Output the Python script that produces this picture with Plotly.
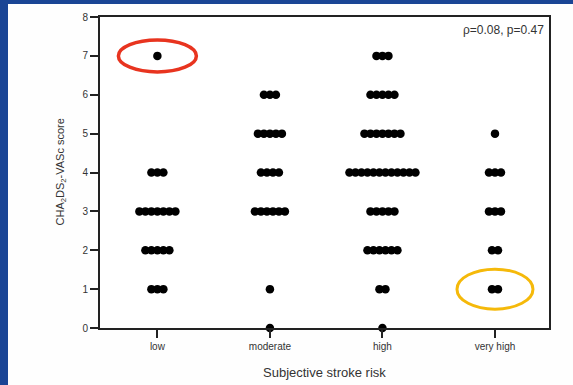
import plotly.graph_objects as go

# Data (count of patients at each score, per category)
categories = ["low", "moderate", "high", "very high"]
scores = [0, 1, 2, 3, 4, 5, 6, 7]
counts_low = [0, 3, 5, 7, 3, 0, 0, 1]
counts_moderate = [1, 1, 0, 6, 4, 5, 3, 0]
counts_high = [1, 2, 6, 5, 12, 7, 5, 3]
counts_very_high = [0, 2, 2, 3, 3, 1, 0, 0]
all_counts = [counts_low, counts_moderate, counts_high, counts_very_high]
y_ticks = [0, 1, 2, 3, 4, 5, 6, 7, 8]
stat_text = "ρ=0.08, p=0.47"

# Layout geometry (pixels)
W, H = 573, 385
ML, MR, MT, MB = 100, 24, 17, 57
plot_w = W - ML - MR
x_range = [-0.51, 3.48]
px_per_unit = plot_w / (x_range[1] - x_range[0])
spacing = 6.0 / px_per_unit

xs, ys = [], []
for ci, counts in enumerate(all_counts):
    for s, n in zip(scores, counts):
        for i in range(n):
            xs.append(ci + (i - (n - 1) / 2) * spacing)
            ys.append(s)

fig = go.Figure()
fig.add_trace(go.Scatter(
    x=xs, y=ys, mode="markers",
    marker=dict(size=8.5, color="black", line=dict(width=0)),
    cliponaxis=False, showlegend=False, hoverinfo="skip"))

axis_font = dict(family="Liberation Sans, Arial, sans-serif", size=10, color="#333")
fig.update_layout(
    width=W, height=H,
    margin=dict(l=ML, r=MR, t=MT, b=MB),
    paper_bgcolor="#fefefe", plot_bgcolor="white",
    font=axis_font,
    xaxis=dict(range=x_range, tickvals=list(range(len(categories))), ticktext=categories,
               showgrid=False, zeroline=False, showline=True, linecolor="#222", linewidth=2,
               mirror=True, ticks="outside", ticklen=8, tickwidth=2, tickcolor="#222",
               tickfont=axis_font),
    yaxis=dict(range=[0, 8], tickvals=y_ticks, showgrid=False, zeroline=False,
               showline=True, linecolor="#222", linewidth=2, mirror=True,
               ticks="outside", ticklen=8, tickwidth=2, tickcolor="#222",
               tickfont=axis_font),
)

fig.add_annotation(text="CHA<sub>2</sub>DS<sub>2</sub>-VASc score", xref="paper", yref="paper",
                   x=0, y=0.5, xshift=-40, textangle=-90, showarrow=False,
                   font=dict(family="Liberation Sans, Arial, sans-serif", size=11, color="#333"),
                   xanchor="center", yanchor="middle")
fig.add_annotation(text="Subjective stroke risk", xref="paper", yref="paper",
                   x=0.5, y=0, yshift=-44, showarrow=False,
                   font=dict(family="Liberation Sans, Arial, sans-serif", size=13, color="#333"),
                   xanchor="center", yanchor="middle")
fig.add_annotation(text=stat_text, xref="paper", yref="paper", x=1, y=1,
                   xshift=-3, yshift=-4, showarrow=False, xanchor="right", yanchor="top",
                   font=dict(family="Liberation Sans, Arial, sans-serif", size=12, color="#333"))

# Highlight ellipses anchored on data points
fig.add_shape(type="circle", xref="x", yref="y", xsizemode="pixel", ysizemode="pixel",
              xanchor=0, yanchor=7, x0=-39, x1=39, y0=-16, y1=16,
              line=dict(color="#e8341f", width=3.5))
fig.add_shape(type="circle", xref="x", yref="y", xsizemode="pixel", ysizemode="pixel",
              xanchor=3, yanchor=1, x0=-38, x1=38, y0=-20, y1=20,
              line=dict(color="#f5b90a", width=3))

# Blue slide border
fig.add_shape(type="rect", xref="paper", yref="paper", x0=-ML / plot_w, x1=(8 - ML) / plot_w,
              y0=-MB / (H - MT - MB), y1=1 + MT / (H - MT - MB),
              line=dict(width=0), fillcolor="#1a4595", layer="above")
fig.add_shape(type="rect", xref="paper", yref="paper", x0=-ML / plot_w, x1=1 + MR / plot_w,
              y0=1 + (MT - 4) / (H - MT - MB), y1=1 + MT / (H - MT - MB),
              line=dict(width=0), fillcolor="#1a4595", layer="above")

fig.write_html("out.html")
